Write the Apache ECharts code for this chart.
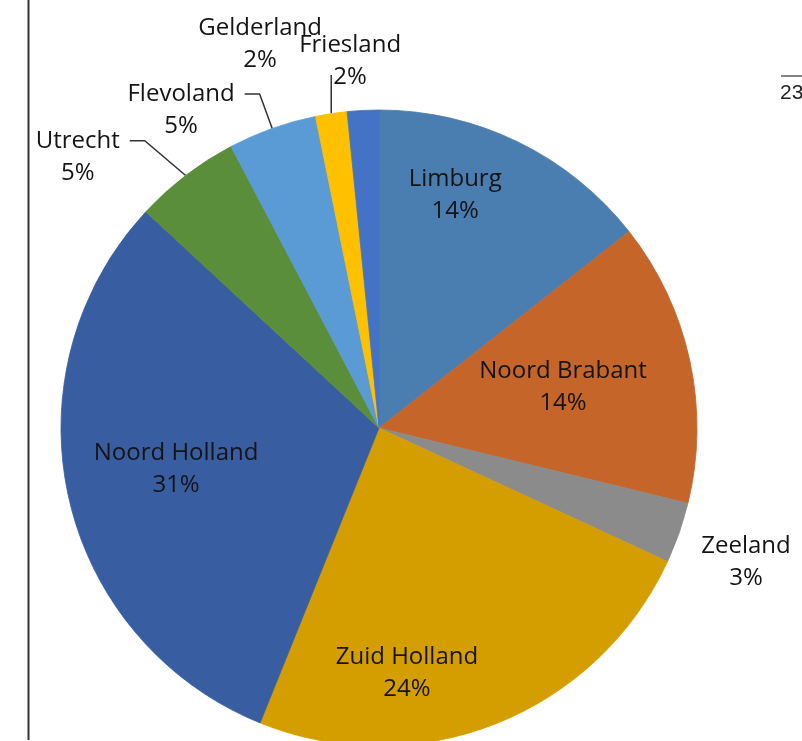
<!DOCTYPE html>
<html>
<head>
<meta charset="utf-8">
<title>Provincies</title>
<style>
  html, body { margin: 0; padding: 0; background: #fff; }
  #main { width: 802px; height: 741px; }
</style>
<script src="https://cdn.jsdelivr.net/npm/echarts@6/dist/echarts.min.js"></script>
</head>
<body>
<div id="main"></div>
<script>
const provinces = ['Limburg', 'Noord Brabant', 'Zeeland', 'Zuid Holland', 'Noord Holland', 'Utrecht', 'Flevoland', 'Friesland', 'Gelderland']
const shares = [14.4, 14.4, 3.1, 24.2, 30.8, 5.4, 4.5, 1.6, 1.6]
const colors = ['#4a7db0', '#c5652a', '#8b8b8b', '#d49e00', '#385ea1', '#5b8e3b', '#5b9bd5', '#ffc000', '#4472c4']

// where each label sits: [distance from centre in radii, degrees clockwise from 12 o'clock]
const labelSpots = [[0.771, 18.1], [0.593, 77.4], [1.229, 110.1], [0.776, 173.5], [0.651, 258.6],
  [1.275, 312.0], [1.178, 328.1], [1.158, 355.5], [1.264, 342.8]]
// leader line style per label
const leaders = ['', '', '', '', '', 'elbow', 'elbow', 'drop', '']

const myChart = echarts.init(document.getElementById('main'))

function placeLabel (p) {
  const i = p.dataIndex
  const lay = myChart.getModel().getSeriesByIndex(0).getData().getItemLayout(i)
  const a = labelSpots[i][1] * Math.PI / 180
  const x = lay.cx + Math.sin(a) * lay.r * labelSpots[i][0]
  const y = lay.cy - Math.cos(a) * lay.r * labelSpots[i][0]
  const out = { x: x, y: y, align: 'center', verticalAlign: 'middle' }
  if (leaders[i]) {
    const mid = (lay.startAngle + lay.endAngle) / 2
    const ax = lay.cx + Math.cos(mid) * lay.r
    const ay = lay.cy + Math.sin(mid) * lay.r
    const w = p.labelRect.width
    const h = p.labelRect.height
    const top = y - h / 2
    if (leaders[i] === 'elbow') {
      const ly = top + 16
      const right = x + w / 2
      out.labelLinePoints = [[right + 10, ly], [right + 25, ly], [ax, ay]]
    } else {
      out.labelLinePoints = [[ax, top + 46], [ax, ay]]
    }
  }
  return out
}

const option = {
  animation: false,
  graphic: [
    { type: 'line', shape: { x1: 28.5, y1: 0, x2: 28.5, y2: 740 }, style: { stroke: '#333', lineWidth: 2 } },
    { type: 'line', shape: { x1: 781, y1: 76, x2: 802, y2: 76 }, style: { stroke: '#333', lineWidth: 1.2 } },
    {
      type: 'text',
      left: 780,
      top: 83,
      style: { text: '23', font: '21px "Liberation Sans", Arial, sans-serif', fill: '#222' }
    }
  ],
  series: [
    {
      type: 'pie',
      center: [379, 428],
      radius: 318,
      startAngle: 90,
      clockwise: true,
      percentPrecision: 0,
      avoidLabelOverlap: false,
      emphasis: { disabled: true },
      data: provinces.map((name, i) => ({
        name: name,
        value: shares[i],
        // border in the slice's own colour hides the light seams between slices
        itemStyle: { color: colors[i], borderColor: colors[i], borderWidth: 0.8 },
        label: { position: labelSpots[i][0] < 1 ? 'inside' : 'outside' },
        labelLine: { show: leaders[i] !== '' }
      })),
      label: {
        formatter: '{b}\n{d}%',
        fontFamily: 'Open Sans',
        fontSize: 24,
        lineHeight: 32,
        color: '#141414'
      },
      labelLine: {
        lineStyle: { color: '#333', width: 1.5 }
      },
      labelLayout: placeLabel
    }
  ]
}

myChart.setOption(option)

window.addEventListener('resize', () => {
  myChart.resize()
})
</script>
</body>
</html>
